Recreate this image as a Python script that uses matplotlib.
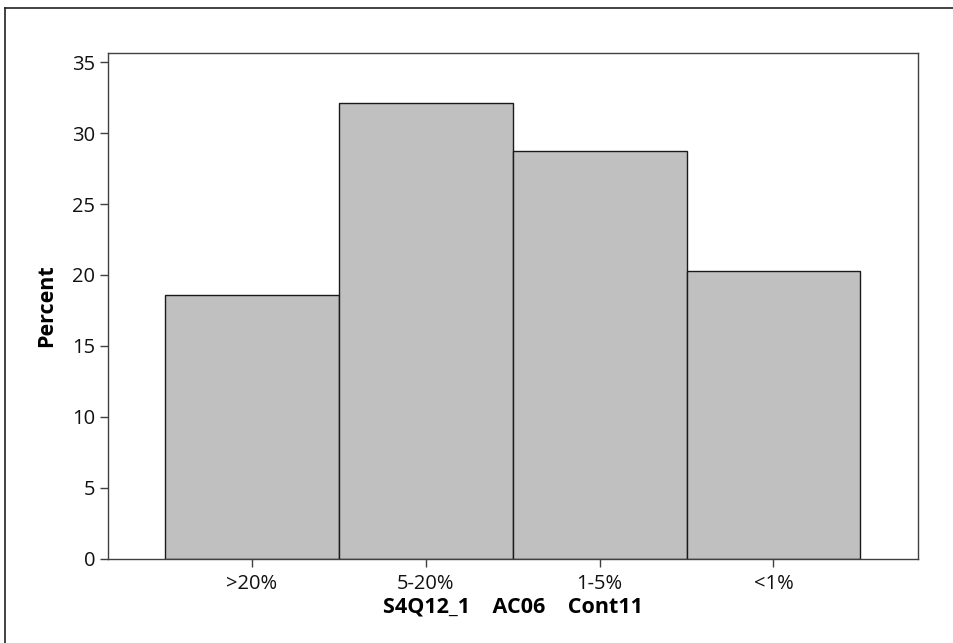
import numpy as np
import matplotlib.pyplot as plt
from matplotlib.lines import Line2D

plt.rcParams['font.family'] = ['Open Sans', 'DejaVu Sans']

# data
categories = ['>20%', '5-20%', '1-5%', '<1%']
percent = [18.6, 32.15, 28.75, 20.3]
yticks = [0, 5, 10, 15, 20, 25, 30, 35]

fig = plt.figure(figsize=(9.54, 6.43), dpi=100)
ax = fig.add_axes([0.1129, 0.1311, 0.8491, 0.7865])

x = np.arange(len(categories))
ax.bar(x, percent, width=1.0, color='#c0c0c0', edgecolor='#1a1a1a', linewidth=1.0)

ax.set_xlim(-0.83, 3.83)
ax.set_ylim(0, 35.65)
ax.set_xticks(x)
ax.set_xticklabels(categories)
ax.set_yticks(yticks)

for s in ax.spines.values():
    s.set_color('#404040')
    s.set_linewidth(1.0)

ax.tick_params(axis='both', direction='out', length=6, width=1, color='#404040',
               labelsize=14.5, labelcolor='#111111')
ax.tick_params(axis='y', pad=3)
ax.tick_params(axis='x', pad=5)

ax.set_ylabel('Percent', fontsize=15.5, fontweight='bold', labelpad=11)
ax.set_xlabel('S4Q12_1    AC06    Cont11', fontsize=15.5, fontweight='bold', labelpad=2)

# outer frame (only top and left edges visible in the reference)
fig.add_artist(Line2D([5 / 954, 5 / 954], [0, 1 - 8 / 643], transform=fig.transFigure,
                      color='#222222', linewidth=1.2))
fig.add_artist(Line2D([5 / 954, 1], [1 - 8 / 643, 1 - 8 / 643], transform=fig.transFigure,
                      color='#222222', linewidth=1.2))

fig.savefig('out.png', dpi=100)
